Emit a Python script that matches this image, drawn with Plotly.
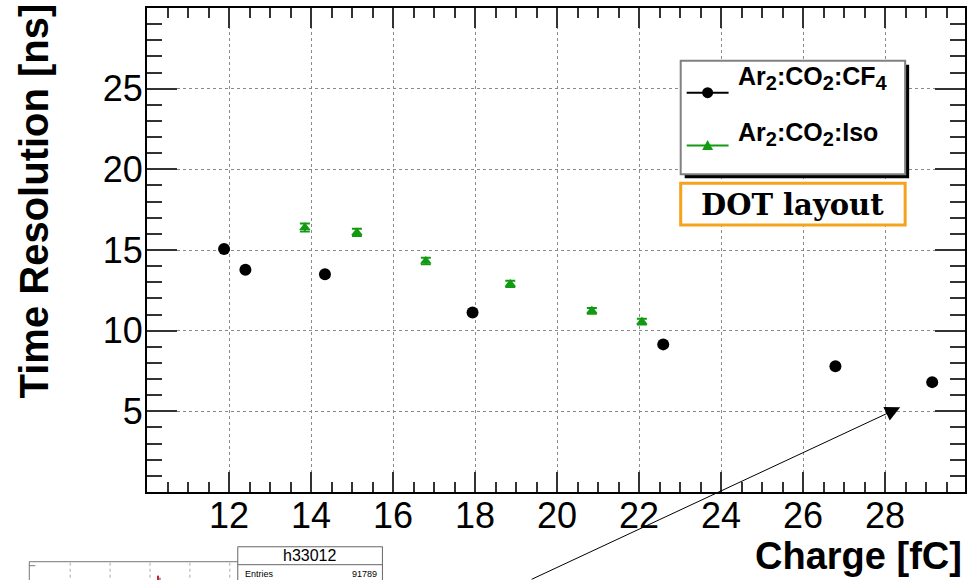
import plotly.graph_objects as go

# ---- data ----
cf4_charge = [11.88, 12.40, 14.34, 17.94, 22.59, 26.79, 29.15]
cf4_time = [15.06, 13.77, 13.49, 11.13, 9.15, 7.80, 6.81]

iso_charge = [13.85, 15.12, 16.80, 18.86, 20.85, 22.07]
iso_time = [16.40, 16.09, 14.32, 12.90, 11.23, 10.56]
iso_err = [0.25, 0.22, 0.20, 0.20, 0.18, 0.18]

x_ticks = [12, 14, 16, 18, 20, 22, 24, 26, 28]
y_ticks = [5, 10, 15, 20, 25]

W, H = 973, 580
L, R, T, B = 147, 6, 6, 88
PW, PH = W - L - R, H - T - B


def px(x):
    return (x - L) / PW


def py(y):
    return (H - B - y) / PH


GREEN = "#129a12"
FONT = "Liberation Sans, Arial, sans-serif"

fig = go.Figure()

fig.add_trace(go.Scatter(
    x=cf4_charge, y=cf4_time, mode="markers",
    marker=dict(symbol="circle", size=12, color="black"),
    showlegend=False,
))
fig.add_trace(go.Scatter(
    x=iso_charge, y=iso_time, mode="markers",
    marker=dict(symbol="triangle-up", size=10, color=GREEN),
    error_y=dict(type="data", array=iso_err, color=GREEN, thickness=2, width=5),
    showlegend=False,
))

axis_common = dict(
    showline=True, linecolor="black", linewidth=2, mirror="ticks",
    ticks="inside", tickcolor="#333", tickwidth=2,
    showgrid=True, gridcolor="#8a8a8a", griddash="dot", gridwidth=1,
    zeroline=False,
    tickfont=dict(family=FONT, size=36, color="black"),
)

fig.update_xaxes(
    range=[10, 29.95], tickmode="array", tickvals=x_ticks, ticklen=20,
    ticklabelstandoff=-9,
    minor=dict(ticks="inside", ticklen=10, dtick=0.5, tick0=10,
               tickcolor="#333", tickwidth=2, showgrid=False),
    **axis_common,
)
fig.update_yaxes(
    range=[0, 30], tickmode="array", tickvals=y_ticks, ticklen=30,
    ticklabelstandoff=-5,
    minor=dict(ticks="inside", ticklen=15, dtick=1, tick0=0,
               tickcolor="#333", tickwidth=2, showgrid=False),
    **axis_common,
)

shapes = []
annotations = []

# ---- legend (ROOT TLegend style with shadow) ----
shapes.append(dict(type="rect", xref="paper", yref="paper",
                   x0=px(686), x1=px(911), y0=py(177), y1=py(63),
                   fillcolor="black", line=dict(width=0), layer="above"))
shapes.append(dict(type="rect", xref="paper", yref="paper",
                   x0=px(682), x1=px(907), y0=py(173), y1=py(59),
                   fillcolor="white", line=dict(color="#808080", width=2), layer="above"))
# entry 1 sample
shapes.append(dict(type="line", xref="paper", yref="paper",
                   x0=px(688), x1=px(730), y0=py(91), y1=py(91),
                   line=dict(color="black", width=2), layer="above"))
shapes.append(dict(type="circle", xref="paper", yref="paper",
                   x0=px(703.5), x1=px(714.5), y0=py(96.5), y1=py(85.5),
                   fillcolor="black", line=dict(color="black", width=0), layer="above"))
# entry 2 sample
shapes.append(dict(type="line", xref="paper", yref="paper",
                   x0=px(688), x1=px(730), y0=py(144), y1=py(144),
                   line=dict(color=GREEN, width=2), layer="above"))
shapes.append(dict(type="path", xref="paper", yref="paper",
                   path="M {:.5f},{:.5f} L {:.5f},{:.5f} L {:.5f},{:.5f} Z".format(
                       px(703.5), py(148.5), px(714.5), py(148.5), px(709), py(138.5)),
                   fillcolor=GREEN, line=dict(color=GREEN, width=0), layer="above"))

SUB = '<sub><span style="font-size:20px">{}</span></sub>'
leg1 = "<b>Ar" + SUB.format("2") + ":CO" + SUB.format("2") + ":CF" + SUB.format("4") + "</b>"
leg2 = "<b>Ar" + SUB.format("2") + ":CO" + SUB.format("2") + ":Iso</b>"
annotations.append(dict(xref="paper", yref="paper", x=px(737), y=py(76),
                        text=leg1, showarrow=False,
                        font=dict(family=FONT, size=25, color="black"),
                        xanchor="left", yanchor="middle"))
annotations.append(dict(xref="paper", yref="paper", x=px(737), y=py(133),
                        text=leg2, showarrow=False,
                        font=dict(family=FONT, size=25, color="black"),
                        xanchor="left", yanchor="middle"))

# DOT layout box
shapes.append(dict(type="rect", xref="paper", yref="paper",
                   x0=px(682), x1=px(907), y0=py(224), y1=py(182),
                   fillcolor="white", line=dict(color="#f5a31c", width=3), layer="above"))
annotations.append(dict(xref="paper", yref="paper", x=px(794), y=py(204),
                        text="<b>DOT layout</b>", showarrow=False,
                        font=dict(family="DejaVu Serif, serif", size=29, color="black"),
                        xanchor="center", yanchor="middle"))

# axis titles
annotations.append(dict(xref="paper", yref="paper", x=px(34), y=py(200),
                        text="<b>Time Resolution [ns]</b>", showarrow=False, textangle=-90,
                        font=dict(family=FONT, size=40, color="black"),
                        xanchor="center", yanchor="middle"))
annotations.append(dict(xref="paper", yref="paper", x=px(966), y=py(556),
                        text="<b>Charge [fC]</b>", showarrow=False,
                        font=dict(family=FONT, size=38, color="black"),
                        xanchor="right", yanchor="middle"))

# arrow
annotations.append(dict(xref="paper", yref="paper", x=px(902), y=py(407),
                        text="", showarrow=True, arrowhead=2, arrowsize=3,
                        arrowwidth=1, arrowcolor="black", ax=-370, ay=195,
                        axref="pixel", ayref="pixel", standoff=0))

# bottom-left inset remnants (another histogram pad)
shapes.append(dict(type="line", xref="paper", yref="paper",
                   x0=px(29), x1=px(240), y0=py(562), y1=py(562),
                   line=dict(color="#777", width=1), layer="above"))
shapes.append(dict(type="line", xref="paper", yref="paper",
                   x0=px(29), x1=px(29), y0=py(562), y1=py(585),
                   line=dict(color="#777", width=1), layer="above"))
shapes.append(dict(type="line", xref="paper", yref="paper",
                   x0=px(29), x1=px(35), y0=py(566), y1=py(566),
                   line=dict(color="#777", width=1), layer="above"))
for gx in [70, 110, 150, 190, 230]:
    shapes.append(dict(type="line", xref="paper", yref="paper",
                       x0=px(gx), x1=px(gx), y0=py(563), y1=py(585),
                       line=dict(color="#aaa", width=1, dash="dot"), layer="above"))
shapes.append(dict(type="line", xref="paper", yref="paper",
                   x0=px(158), x1=px(158), y0=py(576), y1=py(585),
                   line=dict(color="#d02020", width=2), layer="above"))
shapes.append(dict(type="line", xref="paper", yref="paper",
                   x0=px(160), x1=px(160), y0=py(578), y1=py(585),
                   line=dict(color="#3040c0", width=1), layer="above"))
shapes.append(dict(type="rect", xref="paper", yref="paper",
                   x0=px(238), x1=px(383), y0=py(590), y1=py(547),
                   fillcolor="white", line=dict(color="#666", width=1), layer="above"))
shapes.append(dict(type="line", xref="paper", yref="paper",
                   x0=px(238), x1=px(383), y0=py(565), y1=py(565),
                   line=dict(color="#666", width=1), layer="above"))
annotations.append(dict(xref="paper", yref="paper", x=px(310), y=py(556),
                        text="h33012", showarrow=False,
                        font=dict(family=FONT, size=16, color="black"),
                        xanchor="center", yanchor="middle"))
annotations.append(dict(xref="paper", yref="paper", x=px(243), y=py(574),
                        text="Entries", showarrow=False,
                        font=dict(family=FONT, size=9, color="black"),
                        xanchor="left", yanchor="middle"))
annotations.append(dict(xref="paper", yref="paper", x=px(380), y=py(574),
                        text="91789", showarrow=False,
                        font=dict(family=FONT, size=9, color="black"),
                        xanchor="right", yanchor="middle"))

fig.update_layout(
    width=W, height=H,
    margin=dict(l=L, r=R, t=T, b=B),
    paper_bgcolor="white", plot_bgcolor="white",
    shapes=shapes, annotations=annotations,
    showlegend=False,
)

fig.write_html("out.html", config={"displayModeBar": False},
               post_script="document.body.style.margin='0';")
